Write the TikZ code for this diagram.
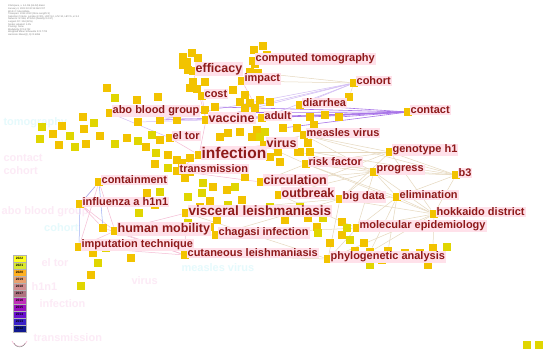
\documentclass[tikz,border=0pt]{standalone}
\usepackage{fontspec}
\setmainfont{Liberation Sans}
\usetikzlibrary{positioning,backgrounds}
\definecolor{kwred}{HTML}{8E1A1A}
\definecolor{kwbg}{HTML}{FFE1EA}
\definecolor{gold}{HTML}{F2C300}
\definecolor{lime}{HTML}{E0D600}
\definecolor{lnpurple}{HTML}{A874E8}
\definecolor{lnlav}{HTML}{D2BCF4}
\definecolor{lntan}{HTML}{E6D8BE}
\definecolor{lnpink}{HTML}{F5BCD4}
\definecolor{lnblue}{HTML}{A0B0F4}
\definecolor{ghpink}{HTML}{F080C8}
\definecolor{ghcyan}{HTML}{60E0F0}

\begin{document}
\begin{tikzpicture}[x=1pt,y=-1pt,
sq/.style={fill=gold,minimum size=8.5pt,inner sep=0pt},
sql/.style={sq,fill=lime},
kw/.style={fill=kwbg,text=kwred,inner sep=1pt,yshift=2pt,font=\bfseries\fontsize{11}{11}\selectfont},
mid/.style={font=\bfseries\fontsize{12.5}{12.5}\selectfont},
big/.style={font=\bfseries\fontsize{13.5}{13.5}\selectfont},
huge/.style={font=\bfseries\fontsize{15.5}{15.5}\selectfont},
purple/.style={lnpurple,line width=0.6pt},
lav/.style={lnlav,line width=0.5pt},
tan/.style={lntan,line width=0.5pt},
pink/.style={lnpink,line width=0.5pt},
blue/.style={lnblue,line width=0.5pt},
ghost/.style={opacity=0.16,font=\bfseries\fontsize{11}{11}\selectfont},
legcell/.style={minimum width=13pt,minimum height=7pt,inner sep=0pt,draw=gray!60,line width=0.2pt,font=\bfseries\fontsize{3.2}{3.2}\selectfont}
]
\useasboundingbox (0,0) rectangle (550,355);

% header
\node[anchor=north west,align=left,text=gray,inner sep=0pt,font=\fontsize{2.4}{2.6}\selectfont] (hdr) at (8,5)
{CiteSpace, v. 6.1.R6 (64-bit) Basic\\
January 3, 2023 10:32:18 AM CST\\
WoS: C:/Users/data\\
Timespan: 2012-2022 (Slice Length=1)\\
Selection Criteria: g-index (k=25), LRF=3.0, L/N=10, LBY=5, e=1.0\\
Network: N=384, E=1250 (Density=0.017)\\
Largest CC: 354 (92\%)\\
Nodes Labeled: 1.0\%\\
Pruning: None\\
Modularity Q=0.4722\\
Weighted Mean Silhouette S=0.7703\\
Harmonic Mean(Q, S)=0.5855};

% ghost labels
\node[ghost,text=ghcyan,anchor=west] (g1) at (0,123) {tomography};
\node[ghost,text=ghpink,anchor=west] (g2) at (0,158) {contact};
\node[ghost,text=ghpink,anchor=west] (g3) at (0,171) {cohort};
\node[ghost,text=ghpink,anchor=east] (g4) at (92,212) {abo blood group};
\node[ghost,text=ghcyan,anchor=east] (g5) at (82,228) {cohort};
\node[ghost,text=ghpink,anchor=west] (g6) at (38,263) {el tor};
\node[ghost,text=ghpink,anchor=west] (g7) at (28,287) {h1n1};
\node[ghost,text=ghpink,anchor=west] (g8) at (36,304) {infection};
\node[ghost,text=ghcyan,anchor=west] (g9) at (178,268) {measles virus};
\node[ghost,text=ghpink,anchor=west] (g10) at (128,281) {virus};
\node[ghost,text=ghpink,anchor=west] (g11) at (30,338) {transmission};

% squares
\foreach \x/\y [count=\i] in {254/50,263/46,267/55,183/57,192/53,187/62,198/58,183/65,188/70,255/64,
258/73,193/82,205/82,197/89,190/88,233/90,245/95,240/102,250/103,260/100,270/102,158/97,205/110,
255/108,297/128,314/125,177/120,228/133,240/132,257/130,252/137,220/137,278/152,270/157,280/162,
168/155,177/160,190/158,107/88,137/100,83/117,62/126,53/134,84/129,100/136,59/145,86/144,127/138,
146/147,160/140,155/164,182/163,147/193,155/205,185/178,213/187,227/190,245/177,210/201,200/207,
217/220,210/227,93/253,131/258,91/275,242/200,190/172,308/143,298/152,285/220,308/218,317/227,
342/222,342/235,330/243,364/243,355/251,405/253,420/253,382/260,428/265}
  \node[sq] (sg\i) at (\x,\y) {};
\foreach \x/\y [count=\i] in {115/98,42/127,70/136,94/123,40/139,75/147,115/144,138/141,152/135,
156/153,168/168,160/192,139/213,203/183,235/187,202/193,188/197,188/223,106/248,98/263,81/286,
228/205,270/207,300/207,323/218,318/233,347/228,350/240,370/265,447/247,265/132,260/137,
527/345,539/345}
  \node[sql] (sl\i) at (\x,\y) {};
\foreach \n/\x/\y in {v1/215/107,v2/245/108,v3/310/117,v4/325/115,v5/339/117,v6/283/128,
v7/160/120,v8/138/122,v9/250/72,v10/300/152,v11/310/152,v12/433/248,v13/388/251,
v14/370/252,v15/103/228,v16/349/97}
  \node[sq] (\n) at (\x,\y) {};

% keyword nodes
\foreach \n/\x/\y in {comp/253/61,effi/193/71,impa/242/81,coho/354/83,cost/202/96,diar/300/105,
abo/110/113,vacc/206/120,adul/262/118,cont/408/112,eltor/170/138,meas/304/135,viru/264/145,
infe/199/155,geno/390/152,risk/306/164,prog/374/172,b3/456/175,tran/177/171,cnmt/99/182,
circ/261/182,outb/279/195,bigd/340/199,elim/397/197,infl/80/204,visc/186/213,hokk/434/214,
mole/357/228,huma/115/231,chag/216/235,impu/79/247,cuta/185/255,phyl/328/259}
  \node[sq] (\n) at (\x,\y) {};

\node[kw, right=-3pt of comp] (comp-t) {computed tomography};
\node[kw, mid, right=-3pt of effi] (effi-t) {efficacy};
\node[kw, right=-3pt of impa] (impa-t) {impact};
\node[kw, right=-3pt of coho] (coho-t) {cohort};
\node[kw, right=-3pt of cost] (cost-t) {cost};
\node[kw, right=-3pt of diar] (diar-t) {diarrhea};
\node[kw, right=-3pt of abo] (abo-t) {abo blood group};
\node[kw, mid, right=-3pt of vacc] (vacc-t) {vaccine};
\node[kw, right=-3pt of adul] (adul-t) {adult};
\node[kw, right=-3pt of cont] (cont-t) {contact};
\node[kw, right=-3pt of eltor] (eltor-t) {el tor};
\node[kw, right=-3pt of meas] (meas-t) {measles virus};
\node[kw, mid, right=-3pt of viru] (viru-t) {virus};
\node[kw, huge, right=-3pt of infe] (infe-t) {infection};
\node[kw, right=-3pt of geno] (geno-t) {genotype h1};
\node[kw, right=-3pt of risk] (risk-t) {risk factor};
\node[kw, right=-3pt of prog] (prog-t) {progress};
\node[kw, right=-3pt of b3] (b3-t) {b3};
\node[kw, right=-3pt of tran] (tran-t) {transmission};
\node[kw, right=-3pt of cnmt] (cnmt-t) {containment};
\node[kw, mid, right=-3pt of circ] (circ-t) {circulation};
\node[kw, mid, right=-3pt of outb] (outb-t) {outbreak};
\node[kw, right=-3pt of bigd] (bigd-t) {big data};
\node[kw, right=-3pt of elim] (elim-t) {elimination};
\node[kw, right=-3pt of infl] (infl-t) {influenza a h1n1};
\node[kw, big, right=-3pt of visc] (visc-t) {visceral leishmaniasis};
\node[kw, right=-3pt of hokk] (hokk-t) {hokkaido district};
\node[kw, right=-3pt of mole] (mole-t) {molecular epidemiology};
\node[kw, mid, right=-3pt of huma] (huma-t) {human mobility};
\node[kw, right=-3pt of chag] (chag-t) {chagasi infection};
\node[kw, right=-3pt of impu] (impu-t) {imputation technique};
\node[kw, right=-3pt of cuta] (cuta-t) {cutaneous leishmaniasis};
\node[kw, right=-3pt of phyl] (phyl-t) {phylogenetic analysis};

% links
\begin{pgfonlayer}{background}
\fill[white] (0,0) rectangle (550,355);
\foreach \a/\b in {effi/vacc,cost/vacc,impa/adul,infe/vacc,infe/tran,tran/circ,infe/viru,eltor/infe,
cnmt/infl,cnmt/impu,cnmt/huma,infl/huma,huma/impu,impu/cuta,huma/cuta,huma/visc,infl/v15,
v15/cuta,chag/huma,visc/cuta}
  \draw[pink] (\a) -- (\b);
\foreach \a/\b in {infl/impu,cnmt/v15,cnmt/infl}
  \draw[blue] (\a) -- (\b);
\foreach \a/\b in {impa/coho,v9/coho,v16/coho,
meas/geno,meas/prog,meas/b3,risk/geno,risk/prog,risk/b3,risk/elim,risk/hokk,v11/geno,v11/b3,
v10/prog,viru/meas,viru/risk,prog/b3,prog/elim,prog/hokk,geno/b3,geno/hokk,elim/hokk,b3/hokk,
b3/elim,bigd/prog,bigd/geno,bigd/elim,bigd/hokk,mole/prog,mole/hokk,mole/elim,phyl/hokk,
phyl/bigd,phyl/mole,v12/hokk,v13/elim,v14/elim,outb/prog,outb/geno,circ/prog,circ/risk,
outb/bigd,visc/bigd,visc/phyl,chag/bigd,cuta/phyl,chag/mole,outb/mole,v14/hokk}
  \draw[tan] (\a) -- (\b);
\foreach \a/\b in {abo/vacc,v8/vacc,abo/eltor,v7/coho,vacc/coho,adul/coho,v2/coho,diar/coho}
  \draw[lav] (\a) -- (\b);
\foreach \a/\b in {abo/cont,v7/cont,v1/cont,vacc/cont,adul/cont,diar/cont,v3/cont,v4/cont,
v5/cont,v6/cont}
  \draw[purple] (\a) -- (\b);
\end{pgfonlayer}

% legend
\foreach \c [count=\i from 0] in {FFFF20,D8E830,FFB020,E8A070,D08C90,B07480,C030B8,9A10C0,
6A10D0,3A20C8,101890}{
  \pgfmathtruncatemacro{\yr}{2022-\i}
  \definecolor{legc}{HTML}{\c}
  \node[legcell,fill=legc] (yr\yr) at (19.5,258.5+7*\i) {\yr};
}
\draw[lnpink,line width=0.6pt] (12,341) arc[start angle=160,end angle=20,radius=8];
\draw[gray,line width=0.4pt] (14,343) arc[start angle=160,end angle=20,radius=6];
\end{tikzpicture}
\end{document}
